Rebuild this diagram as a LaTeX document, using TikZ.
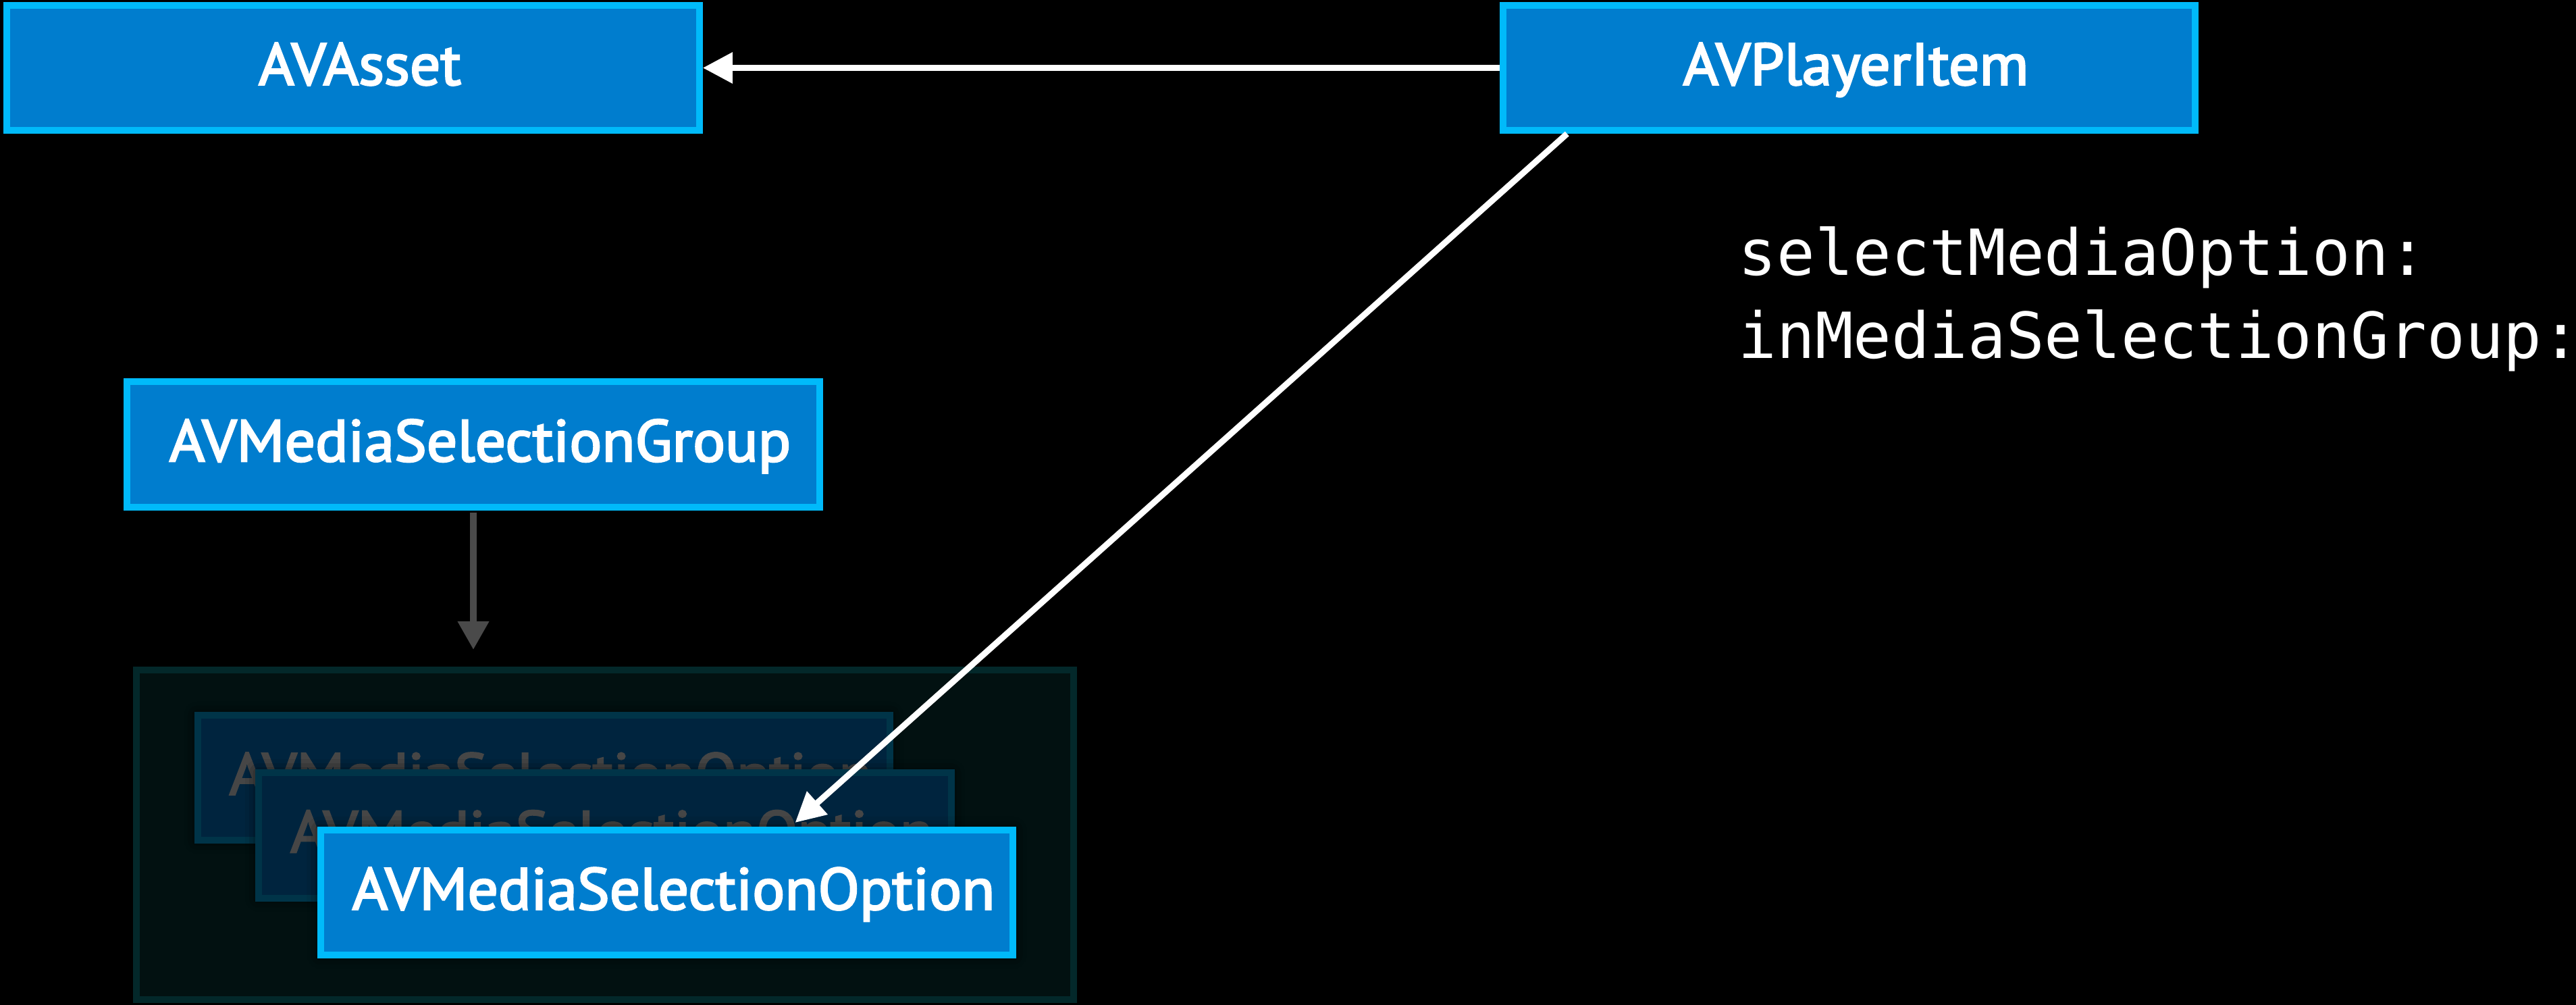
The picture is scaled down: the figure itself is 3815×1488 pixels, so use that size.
\documentclass[tikz,border=0pt]{standalone}
\usepackage{fontspec}
\setmainfont{PT Sans}
\newfontfamily\boxfontfam[FakeStretch=1.03,FakeBold=3]{PT Sans}
\newfontfamily\monofontfam{DejaVu Sans Mono}
\usetikzlibrary{arrows.meta,shadows.blur,calc}
\definecolor{boxfill}{RGB}{0,125,206}
\definecolor{boxline}{RGB}{0,186,250}
\definecolor{ctfill}{RGB}{2,17,17}
\definecolor{ctline}{RGB}{3,40,42}
\definecolor{dimfill}{RGB}{0,36,62}
\definecolor{dimline}{RGB}{0,52,72}
\definecolor{dimtext}{RGB}{70,70,70}
\definecolor{greyarrow}{RGB}{74,74,74}
\tikzset{
  box/.style={draw=boxline, fill=boxfill, line width=0.1cm, minimum width=10.25cm,
    minimum height=1.85cm, inner sep=0pt, text=white,
    font=\boxfontfam\fontsize{24.8pt}{30pt}\selectfont, text height=0.5cm, text depth=0cm,
    execute at begin node={\hspace*{0.2cm}}},
  halo/.style={blur shadow={shadow xshift=0cm, shadow yshift=0cm, shadow blur radius=0.2cm, shadow opacity=85}},
  dimbox/.style={box, draw=dimline, fill=dimfill, text=dimtext, halo},
  frontbox/.style={box, halo},
  holder/.style={draw=ctline, fill=ctfill, line width=0.1cm, minimum width=13.88cm, minimum height=4.88cm, inner sep=0pt},
  arr/.style={draw=white, line width=0.09cm, -{Triangle[length=0.44cm, width=0.44cm]}},
  garr/.style={draw=greyarrow, line width=0.1cm, -{Triangle[length=0.42cm, width=0.44cm]}},
  mono/.style={text=white, font=\monofontfam\fontsize{26.76pt}{34.7pt}\selectfont, align=left, inner sep=0pt}
}
\begin{document}
\begin{tikzpicture}[x=0.01cm, y=-0.01cm]
\useasboundingbox[fill=black] (0,0) rectangle (3815,1488);
\node[holder] (ct) at (896,1236) {};
\node[dimbox] (opt1) at (805.5,1151.5) {AVMediaSelectionOption};
\node[dimbox] (opt2) at (896,1237) {AVMediaSelectionOption};
\node[frontbox] (opt3) at (987.5,1321.5) {AVMediaSelectionOption};
\node[box] (group) at (701,658) {AVMediaSelectionGroup};
\node[box] (asset) at (523,100.5) {AVAsset};
\node[box] (item) at (2738.5,100.5) {AVPlayerItem};
\coordinate (gtip) at (701,962);
\draw[garr] ([yshift=-0.03cm]group.south) -- (gtip);
\draw[arr] (item.west) -- (asset.east);
\draw[arr] ([xshift=1cm]item.south west) -- ([shift={(1.9cm,0.06cm)}]opt3.north);
\node[mono, anchor=base west] (call) at (2574,530) {selectMediaOption:\\inMediaSelectionGroup:};
\end{tikzpicture}
\end{document}
